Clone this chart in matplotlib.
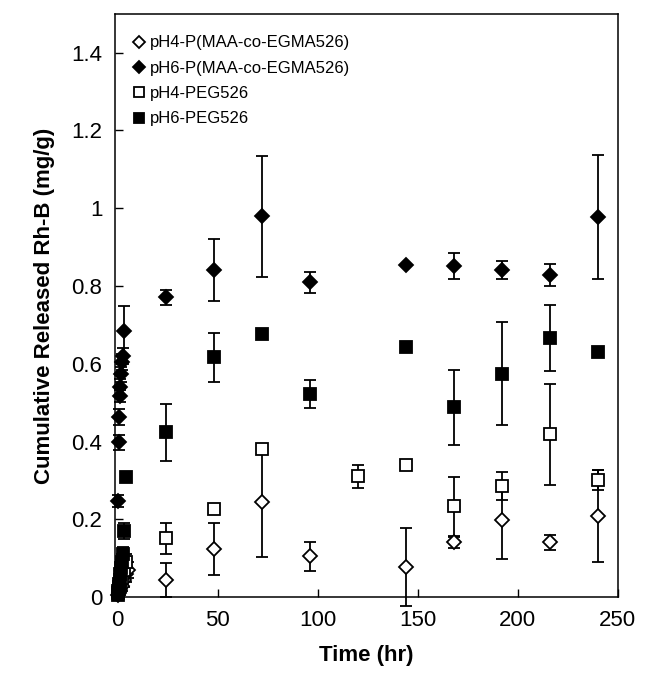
import matplotlib
matplotlib.use("Agg")
import matplotlib.pyplot as plt

plt.rcParams['font.family'] = ['Liberation Sans', 'DejaVu Sans']

# pH4 - P(MAA-co-EGMA526)  (open diamonds)
t_p4 = [0.25, 0.5, 1, 2, 3, 4, 5, 24, 48, 72, 96, 144, 168, 192, 216, 240]
p4 = [0.005, 0.01, 0.02, 0.03, 0.045, 0.06, 0.07, 0.044, 0.123, 0.244, 0.105,
      0.077, 0.141, 0.198, 0.141, 0.208]
p4_err = [0.005, 0.008, 0.01, 0.015, 0.02, 0.02, 0.02, 0.043, 0.067, 0.14,
          0.038, 0.10, 0.015, 0.10, 0.02, 0.118]

# pH6 - P(MAA-co-EGMA526)  (filled diamonds)
t_p6 = [0.25, 0.5, 0.75, 1, 1.25, 1.5, 2, 2.5, 3, 24, 48, 72, 96, 144, 168,
        192, 216, 240]
p6 = [0.247, 0.398, 0.463, 0.517, 0.54, 0.573, 0.604, 0.62, 0.684, 0.771,
      0.841, 0.979, 0.810, 0.853, 0.851, 0.841, 0.828, 0.977]
p6_err = [0.015, 0.02, 0.02, 0.015, 0.02, 0.02, 0.02, 0.02, 0.065, 0.02, 0.08,
          0.155, 0.027, 0.0, 0.033, 0.023, 0.028, 0.16]

# pH4 - PEG526  (open squares)
t_g4 = [0.25, 0.5, 1, 2, 3, 4, 24, 48, 72, 120, 144, 168, 192, 216, 240]
g4 = [0.01, 0.02, 0.03, 0.05, 0.07, 0.09, 0.151, 0.226, 0.380, 0.311, 0.339,
      0.234, 0.285, 0.419, 0.301]
g4_err = [0.005, 0.01, 0.01, 0.015, 0.02, 0.02, 0.04, 0.01, 0.01, 0.03, 0.0,
          0.076, 0.036, 0.13, 0.025]

# pH6 - PEG526  (filled squares)
t_g6 = [0.1, 0.25, 0.5, 0.75, 1, 1.25, 1.5, 2, 2.5, 3, 4, 24, 48, 72, 96,
        144, 168, 192, 216, 240]
g6 = [0.005, 0.015, 0.025, 0.035, 0.045, 0.06, 0.075, 0.09, 0.11, 0.17, 0.31,
      0.424, 0.617, 0.676, 0.522, 0.643, 0.488, 0.575, 0.666, 0.630]
g6_err = [0.005, 0.01, 0.01, 0.015, 0.015, 0.015, 0.02, 0.02, 0.02, 0.02, 0.0,
          0.073, 0.063, 0.0, 0.036, 0.0, 0.097, 0.133, 0.085, 0.0]

labels = ['pH4-P(MAA-co-EGMA526)', 'pH6-P(MAA-co-EGMA526)',
          'pH4-PEG526', 'pH6-PEG526']

fig = plt.figure(figsize=(6.45, 6.88), dpi=100)
ax = fig.add_axes([0.178, 0.132, 0.780, 0.848])

common = dict(ecolor='black', elinewidth=1.3, capsize=4, capthick=1.3,
              linestyle='none', mec='black', mew=1.3, clip_on=False, zorder=3)

c1 = ax.errorbar(t_p4, p4, yerr=p4_err, fmt='D', ms=7, mfc='white', **common)
c3 = ax.errorbar(t_g4, g4, yerr=g4_err, fmt='s', ms=8.5, mfc='white', **common)
c2 = ax.errorbar(t_p6, p6, yerr=p6_err, fmt='D', ms=7, mfc='black', **common)
c4 = ax.errorbar(t_g6, g6, yerr=g6_err, fmt='s', ms=8.5, mfc='black', **common)

ax.set_xlim(-1.5, 250)
ax.set_ylim(0, 1.5)
ax.set_xticks([0, 50, 100, 150, 200, 250])
ax.set_yticks([0, 0.2, 0.4, 0.6, 0.8, 1.0, 1.2, 1.4])
ax.set_yticklabels(['0', '0.2', '0.4', '0.6', '0.8', '1', '1.2', '1.4'])
ax.tick_params(direction='in', length=6, width=1, labelsize=16, pad=9)
for s in ax.spines.values():
    s.set_linewidth(1.1)

ax.set_xlabel('Time (hr)', fontsize=16, fontweight='bold', labelpad=10)
ax.set_ylabel('Cumulative Released Rh-B (mg/g)', fontsize=16,
              fontweight='bold', labelpad=12)

handles = [c1.lines[0], c2.lines[0], c3.lines[0], c4.lines[0]]
leg = ax.legend(handles, labels, loc='upper left', bbox_to_anchor=(0.012, 0.98),
                frameon=False, fontsize=12, handletextpad=0.15,
                handlelength=1.0, labelspacing=0.62, borderaxespad=0.2,
                markerscale=0.85)

fig.savefig('out.png', dpi=100)
